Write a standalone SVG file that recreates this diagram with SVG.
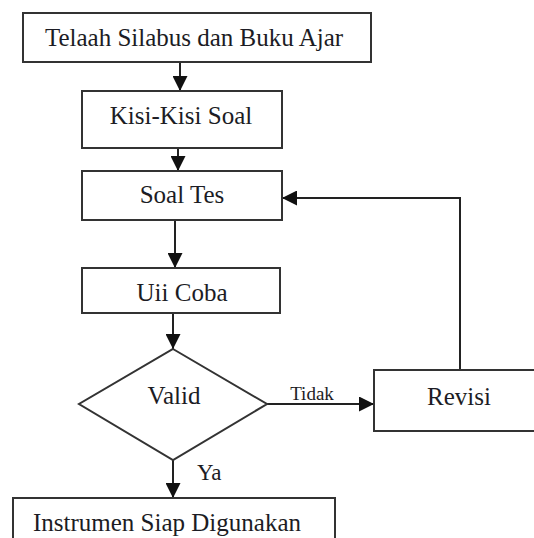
<svg xmlns="http://www.w3.org/2000/svg" width="534" height="538" viewBox="0 0 534 538">
<style>
.box{fill:#fff;stroke:#333;stroke-width:2}
.t{font-family:"Liberation Serif","Times New Roman",serif;font-size:25px;fill:#1c1c24;text-anchor:middle}
.s{font-size:19px}
.c{fill:none;stroke:#222;stroke-width:2}
</style>
<defs>
<marker id="ah" markerUnits="userSpaceOnUse" markerWidth="15" markerHeight="15" refX="14" refY="7" orient="auto" viewBox="0 0 14 14">
<path d="M0,0 L14,7 L0,14 z" fill="#111"/>
</marker>
</defs>
<rect width="534" height="538" fill="#fff"/>
<g id="connectors">
<line class="c" x1="180" y1="62" x2="180" y2="91" marker-end="url(#ah)"/>
<line class="c" x1="178" y1="148" x2="178" y2="171" marker-end="url(#ah)"/>
<line class="c" x1="175" y1="220" x2="175" y2="268" marker-end="url(#ah)"/>
<line class="c" x1="173" y1="313" x2="173" y2="349" marker-end="url(#ah)"/>
<line class="c" x1="267" y1="404" x2="374" y2="404" marker-end="url(#ah)"/>
<line class="c" x1="173" y1="460" x2="173" y2="498" marker-end="url(#ah)"/>
<polyline class="c" points="460,370 460,198 282,198" marker-end="url(#ah)"/>
<text class="t s" x="312" y="400">Tidak</text>
<text class="t" x="197" y="480" style="text-anchor:start;font-size:23px">Ya</text>
</g>
<g id="n1"><rect class="box" x="23" y="13" width="348" height="49"/><text class="t" x="194" y="46">Telaah Silabus dan Buku Ajar</text></g>
<g id="n2"><rect class="box" x="82" y="91" width="200" height="57"/><text class="t" x="181" y="124">Kisi-Kisi Soal</text></g>
<g id="n3"><rect class="box" x="82" y="171" width="200" height="49"/><text class="t" x="182" y="203">Soal Tes</text></g>
<g id="n4"><rect class="box" x="82" y="268" width="198" height="45"/><text class="t" x="182" y="301">Uii Coba</text></g>
<g id="n5"><polygon class="box" points="173,349 267,404 173,460 79,404"/><text class="t" x="174" y="404">Valid</text></g>
<g id="n6"><rect class="box" x="374" y="370" width="170" height="61"/><text class="t" x="459" y="405">Revisi</text></g>
<g id="n7"><rect class="box" x="13" y="498" width="322" height="60"/><text class="t" x="167" y="531">Instrumen Siap Digunakan</text></g>
</svg>
